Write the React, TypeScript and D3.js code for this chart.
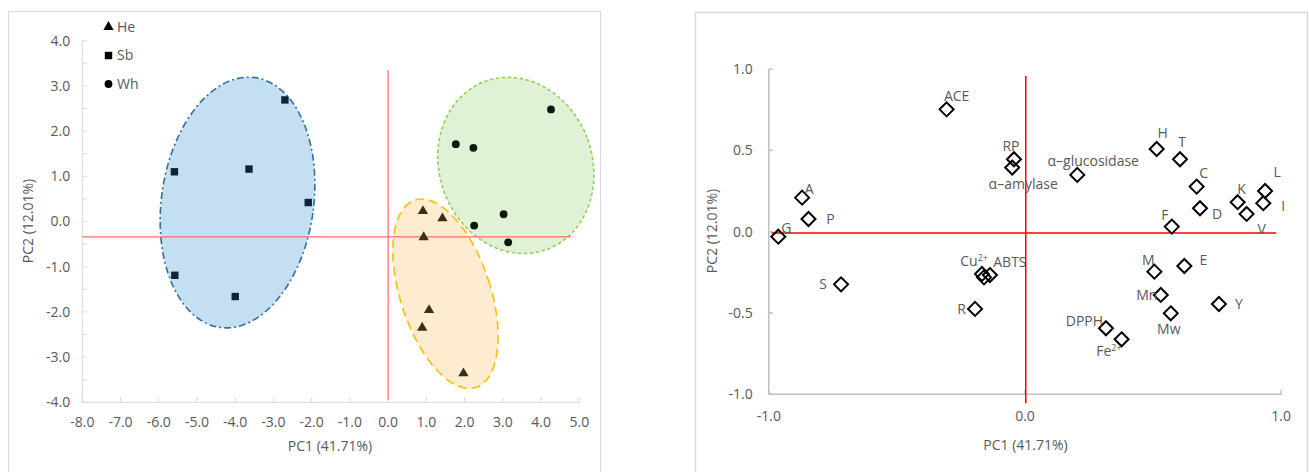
import React from "react";
import * as d3 from "d3";

// ---------- Left panel data (scores) ----------
const heX = [0.91, 1.42, 0.93, 1.07, 0.89, 1.97];
const heY = [0.23, 0.07, -0.35, -1.96, -2.35, -3.36];
const sbX = [-5.59, -3.64, -2.70, -2.09, -5.58, -4.00];
const sbY = [1.10, 1.16, 2.69, 0.42, -1.19, -1.66];
const whX = [4.26, 1.77, 2.23, 3.02, 2.25, 3.14];
const whY = [2.48, 1.71, 1.63, 0.16, -0.09, -0.46];
const legendNames = ["He", "Sb", "Wh"];
const leftXTicks = [-8, -7, -6, -5, -4, -3, -2, -1, 0, 1, 2, 3, 4, 5];
const leftYTicks = [4, 3, 2, 1, 0, -1, -2, -3, -4];

// confidence ellipses: center (PC1, PC2), semi-axes (PC1 units, PC2 units), tilt (deg)
const ellipseGroups = ["Sb", "Wh", "He"];
const ellipseCX = [-3.94, 3.34, 1.50];
const ellipseCY = [0.42, 1.24, -1.60];
const ellipseRX = [1.99, 2.0, 1.18];
const ellipseRY = [2.79, 1.98, 2.18];
const ellipseAngle = [8, -20, -18];

// ---------- Right panel data (loadings) ----------
const loadNames = [
  "ACE", "A", "P", "G", "S", "R", "Cu²⁺", "", "ABTS", "RP", "α–amylase",
  "α–glucosidase", "H", "T", "C", "D", "K", "V", "L", "I", "F", "M", "E",
  "Mn", "Mw", "Y", "DPPH", "Fe²⁺",
];
const loadPC1 = [
  -0.306, -0.870, -0.845, -0.963, -0.718, -0.195, -0.168, -0.160, -0.137, -0.043, -0.050,
  0.204, 0.514, 0.605, 0.670, 0.683, 0.830, 0.865, 0.937, 0.930, 0.573, 0.505, 0.622,
  0.530, 0.569, 0.757, 0.316, 0.377,
];
const loadPC2 = [
  0.752, 0.209, 0.078, -0.031, -0.324, -0.475, -0.260, -0.281, -0.267, 0.445, 0.394,
  0.349, 0.508, 0.445, 0.277, 0.144, 0.181, 0.109, 0.250, 0.175, 0.031, -0.246, -0.211,
  -0.389, -0.502, -0.445, -0.594, -0.662,
];
const rightXTicks = [-1, 0, 1];
const rightYTicks = [1, 0.5, 0, -0.5, -1];

// label placement (pixel offsets from marker, text anchor)
const labelPlace: Record<string, [number, number, string]> = {
  "ACE": [10, -13, "middle"], "A": [7, -9, "middle"], "P": [22, 0, "middle"],
  "G": [8, -9, "middle"], "S": [-18, 0, "middle"], "R": [-13.5, 0, "middle"],
  "Cu²⁺": [6, -13, "end"], "ABTS": [20, -13, "middle"], "RP": [-3, -13, "middle"],
  "α–amylase": [11, 17, "middle"], "α–glucosidase": [16, -14, "middle"],
  "H": [6, -16, "middle"], "T": [2, -17, "middle"], "C": [7, -13, "middle"],
  "D": [17, 6, "middle"], "K": [4, -13, "middle"], "V": [15, 15, "middle"],
  "L": [12, -19, "middle"], "I": [20, 3, "middle"], "F": [-7, -12, "middle"],
  "M": [-6, -12, "middle"], "E": [19, -6, "middle"], "Mn": [-14, 0, "middle"],
  "Mw": [-2, 16, "middle"], "Y": [20, 0, "middle"], "DPPH": [-21.5, -7, "middle"],
  "Fe²⁺": [0, 12, "end"],
};

const FONT = "'Open Sans', sans-serif";
const GRAY = "#595959";
const fmt = (v: number) => v.toFixed(1);

export default function App() {
  // left scales
  const lx = d3.scaleLinear().domain([-8, 5]).range([82.3, 579.3]);
  const ly = d3.scaleLinear().domain([-4, 4]).range([402.3, 40.7]);
  // right scales
  const rx = d3.scaleLinear().domain([-1, 1]).range([768.8, 1281.2]);
  const ry = d3.scaleLinear().domain([-1, 1]).range([394.3, 69]);

  const ellipseStyles = [
    { fill: "#c4dff0", stroke: "#2f6fa5", dash: "7 3 2 3" },
    { fill: "#e0f1d6", stroke: "#8fd05a", dash: "3.5 2.5" },
    { fill: "#fdecd0", stroke: "#ffbf00", dash: "9 5" },
  ];

  const leftMinorY = d3.range(-4, 4.01, 0.5);

  const tri = d3.symbol().type(d3.symbolTriangle).size(46)() as string;
  const sq = d3.symbol().type(d3.symbolSquare).size(55)() as string;
  const circ = d3.symbol().type(d3.symbolCircle).size(48)() as string;

  const diamond = "M0,-7 L7,0 L0,7 L-7,0 Z";

  const renderLabel = (name: string, x: number, y: number, key: string) => {
    if (!name) return null;
    const p = labelPlace[name] || [0, -12, "middle"];
    const sup = name.match(/^(.*?)([²⁺]+)$/);
    const tx = x + p[0];
    const ty = y + p[1];
    if (sup) {
      const base = sup[1];
      const supTxt = sup[2].replace("²", "2").replace("⁺", "+");
      return (
        <text key={key} x={tx} y={ty} dy="0.35em" textAnchor={p[2] as any} fontFamily={FONT} fontSize={14} fill={GRAY}>
          {base}
          <tspan fontSize={9} dy="-0.55em">{supTxt}</tspan>
        </text>
      );
    }
    return (
      <text key={key} x={tx} y={ty} dy="0.35em" textAnchor={p[2] as any} fontFamily={FONT} fontSize={14} fill={GRAY}>
        {name}
      </text>
    );
  };

  return (
    <svg width={1309} height={472} style={{ position: "absolute", left: 0, top: 0, background: "#fff" }}>
      {/* frames */}
      <rect x={8.5} y={11.5} width={592} height={480} fill="#fff" stroke="#d9d9d9" strokeWidth={1} />
      <rect x={695.5} y={12.5} width={612} height={480} fill="#fff" stroke="#d9d9d9" strokeWidth={1.5} />

      {/* ===== LEFT PANEL ===== */}
      <line x1={lx(-8)} x2={lx(-8)} y1={ly(4)} y2={ly(-4)} stroke="#d9d9d9" />
      <line x1={lx(-8)} x2={lx(5)} y1={ly(-4)} y2={ly(-4)} stroke="#d9d9d9" />
      {leftMinorY.map((v, i) => (
        <line key={"lyt" + i} x1={lx(-8)} x2={lx(-8) + 5} y1={ly(v)} y2={ly(v)} stroke="#d9d9d9" />
      ))}
      {leftXTicks.map((v, i) => (
        <line key={"lxt" + i} x1={lx(v)} x2={lx(v)} y1={ly(-4)} y2={ly(-4) - 5} stroke="#d9d9d9" />
      ))}
      {leftYTicks.map((v, i) => (
        <text key={"lyl" + i} x={lx(-8) - 12} y={ly(v)} dy="0.35em" textAnchor="end" fontFamily={FONT} fontSize={14} fill={GRAY}>
          {fmt(v)}
        </text>
      ))}
      {leftXTicks.map((v, i) => (
        <text key={"lxl" + i} x={lx(v)} y={ly(-4) + 20} dy="0.35em" textAnchor="middle" fontFamily={FONT} fontSize={14} fill={GRAY}>
          {fmt(v)}
        </text>
      ))}
      <text x={330} y={446} dy="0.35em" textAnchor="middle" fontFamily={FONT} fontSize={14} fill={GRAY}>PC1 (41.71%)</text>
      <text transform={`translate(28,221) rotate(-90)`} dy="0.35em" textAnchor="middle" fontFamily={FONT} fontSize={14} fill={GRAY}>PC2 (12.01%)</text>

      {/* ellipses */}
      {ellipseGroups.map((g, i) => {
        const cx = lx(ellipseCX[i]);
        const cy = ly(ellipseCY[i]);
        const rxp = lx(ellipseCX[i] + ellipseRX[i]) - cx;
        const ryp = cy - ly(ellipseCY[i] + ellipseRY[i]);
        const s = ellipseStyles[i];
        return (
          <ellipse key={"el" + g} cx={0} cy={0} rx={rxp} ry={ryp}
            transform={`translate(${cx},${cy}) rotate(${ellipseAngle[i]})`}
            fill={s.fill} stroke={s.stroke} strokeWidth={1.6} strokeDasharray={s.dash} />
        );
      })}

      {/* reference lines */}
      <line x1={lx(0)} x2={lx(0)} y1={ly(3.35)} y2={ly(-3.95)} stroke="#ff6b6b" strokeWidth={1.2} />
      <line x1={lx(-8)} x2={lx(4.78)} y1={ly(-0.34)} y2={ly(-0.34)} stroke="#ff6b6b" strokeWidth={1.2} />

      {/* points */}
      {sbX.map((v, i) => (
        <path key={"sb" + i} d={sq} transform={`translate(${lx(v)},${ly(sbY[i])})`} fill="#0e2436" />
      ))}
      {whX.map((v, i) => (
        <path key={"wh" + i} d={circ} transform={`translate(${lx(v)},${ly(whY[i])})`} fill="#0c180c" />
      ))}
      {heX.map((v, i) => (
        <path key={"he" + i} d={tri} transform={`translate(${lx(v)},${ly(heY[i])})`} fill="#3c2e16" />
      ))}

      {/* legend */}
      {legendNames.map((n, i) => {
        const y = 27 + i * 28.5;
        const shape = i === 0 ? tri : i === 1 ? sq : circ;
        return (
          <g key={"lg" + n}>
            <path d={shape} transform={`translate(108.5,${y})`} fill="#000" />
            <text x={117} y={y} dy="0.35em" fontFamily={FONT} fontSize={14} fill={GRAY}>{n}</text>
          </g>
        );
      })}

      {/* ===== RIGHT PANEL ===== */}
      <line x1={rx(-1)} x2={rx(-1)} y1={ry(1)} y2={ry(-1)} stroke="#bfbfbf" strokeWidth={1.5} />
      <line x1={rx(-1)} x2={rx(1)} y1={ry(-1)} y2={ry(-1)} stroke="#bfbfbf" strokeWidth={1.5} />
      {rightYTicks.map((v, i) => (
        <line key={"ryt" + i} x1={rx(-1)} x2={rx(-1) + 4} y1={ry(v)} y2={ry(v)} stroke="#bfbfbf" strokeWidth={1.5} />
      ))}
      {rightXTicks.map((v, i) => (
        <line key={"rxt" + i} x1={rx(v)} x2={rx(v)} y1={ry(-1)} y2={ry(-1) - 4} stroke="#bfbfbf" strokeWidth={1.5} />
      ))}
      {rightYTicks.map((v, i) => (
        <text key={"ryl" + i} x={rx(-1) - 16} y={ry(v)} dy="0.35em" textAnchor="end" fontFamily={FONT} fontSize={14} fill={GRAY}>
          {fmt(v)}
        </text>
      ))}
      {rightXTicks.map((v, i) => (
        <text key={"rxl" + i} x={rx(v)} y={ry(-1) + 22} dy="0.35em" textAnchor="middle" fontFamily={FONT} fontSize={14} fill={GRAY}>
          {fmt(v)}
        </text>
      ))}
      <text x={1025.5} y={445} dy="0.35em" textAnchor="middle" fontFamily={FONT} fontSize={14} fill={GRAY}>PC1 (41.71%)</text>
      <text transform={`translate(712,231) rotate(-90)`} dy="0.35em" textAnchor="middle" fontFamily={FONT} fontSize={14} fill={GRAY}>PC2 (12.01%)</text>

      <line x1={rx(0.003)} x2={rx(0.003)} y1={ry(0.957)} y2={ry(-1.055)} stroke="#ff0000" strokeWidth={1.5} />
      <line x1={rx(-0.99)} x2={rx(0.98)} y1={ry(-0.008)} y2={ry(-0.008)} stroke="#ff0000" strokeWidth={1.5} />

      {loadPC1.map((v, i) => (
        <path key={"ld" + i} d={diamond} transform={`translate(${rx(v)},${ry(loadPC2[i])})`} fill="none" stroke="#000" strokeWidth={2} />
      ))}
      {loadPC1.map((v, i) => renderLabel(loadNames[i], rx(v), ry(loadPC2[i]), "lb" + i))}
    </svg>
  );
}
